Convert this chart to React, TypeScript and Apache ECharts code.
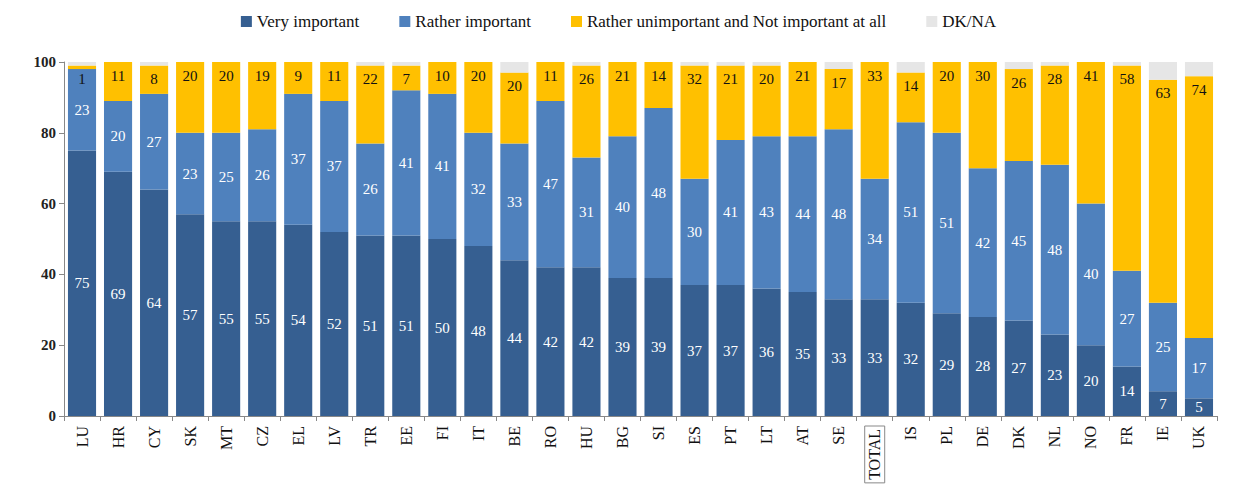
import { useEffect, useRef } from 'react';
import * as echarts from 'echarts';

const countries = ['LU', 'HR', 'CY', 'SK', 'MT', 'CZ', 'EL', 'LV', 'TR', 'EE', 'FI', 'IT', 'BE', 'RO', 'HU', 'BG', 'SI', 'ES', 'PT', 'LT', 'AT', 'SE', 'TOTAL', 'IS', 'PL', 'DE', 'DK', 'NL', 'NO', 'FR', 'IE', 'UK'];
const veryImportant = [75, 69, 64, 57, 55, 55, 54, 52, 51, 51, 50, 48, 44, 42, 42, 39, 39, 37, 37, 36, 35, 33, 33, 32, 29, 28, 27, 23, 20, 14, 7, 5];
const ratherImportant = [23, 20, 27, 23, 25, 26, 37, 37, 26, 41, 41, 32, 33, 47, 31, 40, 48, 30, 41, 43, 44, 48, 34, 51, 51, 42, 45, 48, 40, 27, 25, 17];
const notImportant = [1, 11, 8, 20, 20, 19, 9, 11, 22, 7, 10, 20, 20, 11, 26, 21, 14, 32, 21, 20, 21, 17, 33, 14, 20, 30, 26, 28, 41, 58, 63, 74];
const dkNa = [1, 1, 1, 0, 0, 0, 1, 1, 1, 1, 0, 0, 3, 1, 2, 0, 0, 1, 2, 2, 1, 3, 1, 3, 1, 0, 2, 2, 0, 1, 5, 4];

const FONT = 'Liberation Serif';

export default function App() {
  const chartRef = useRef<HTMLDivElement>(null);

  useEffect(() => {
    if (!chartRef.current) return;
    const chart = echarts.init(chartRef.current, undefined, { renderer: 'svg' });

    const label = (color: string) => ({
      show: true,
      color,
      fontFamily: FONT,
      fontSize: 15,
      position: 'inside' as const,
    });

    const option: echarts.EChartsOption = {
      animation: false,
      textStyle: { fontFamily: FONT },
      legend: {
        top: 0,
        left: 'center',
        itemWidth: 11,
        itemHeight: 11,
        itemGap: 40,
        icon: 'rect',
        textStyle: { fontFamily: FONT, fontSize: 17, color: '#111' },
        data: ['Very important', 'Rather important', 'Rather unimportant and Not important at all', 'DK/NA'],
      },
      grid: { left: 56, right: 12, top: 54, bottom: 71 },
      xAxis: {
        type: 'category',
        data: countries,
        axisLine: { lineStyle: { color: '#888' } },
        axisTick: { show: true, lineStyle: { color: '#888' } },
        axisLabel: {
          rotate: 90,
          interval: 0,
          fontFamily: FONT,
          fontSize: 16,
          color: '#111',
          margin: 10,
          formatter: (v: string) => (v === 'TOTAL' ? `{b|${v}}` : v),
          rich: {
            b: { fontFamily: FONT, fontSize: 16, color: '#111', borderColor: '#888', borderWidth: 1, padding: [2, 3] },
          },
        },
      },
      yAxis: {
        type: 'value',
        min: 0,
        max: 100,
        interval: 20,
        splitLine: { show: false },
        axisLine: { show: true, lineStyle: { color: '#888' } },
        axisTick: { show: true, lineStyle: { color: '#888' } },
        axisLabel: { fontFamily: FONT, fontSize: 15, color: '#222', fontWeight: 'bold' },
      },
      series: [
        {
          name: 'Very important',
          type: 'bar',
          stack: 's',
          barCategoryGap: '22%',
          data: veryImportant,
          itemStyle: { color: '#365f91' },
          label: label('#fff'),
        },
        {
          name: 'Rather important',
          type: 'bar',
          stack: 's',
          data: ratherImportant,
          itemStyle: { color: '#4f81bd' },
          label: label('#fff'),
        },
        {
          name: 'Rather unimportant and Not important at all',
          type: 'bar',
          stack: 's',
          data: notImportant,
          itemStyle: { color: '#ffc000' },
          label: { ...label('#111'), position: 'insideTop', distance: 6 },
        },
        {
          name: 'DK/NA',
          type: 'bar',
          stack: 's',
          data: dkNa,
          itemStyle: { color: '#e6e6e6' },
        },
      ],
    };

    chart.setOption(option);
    return () => chart.dispose();
  }, []);

  return <div ref={chartRef} style={{ width: 1221, height: 479 }} />;
}
